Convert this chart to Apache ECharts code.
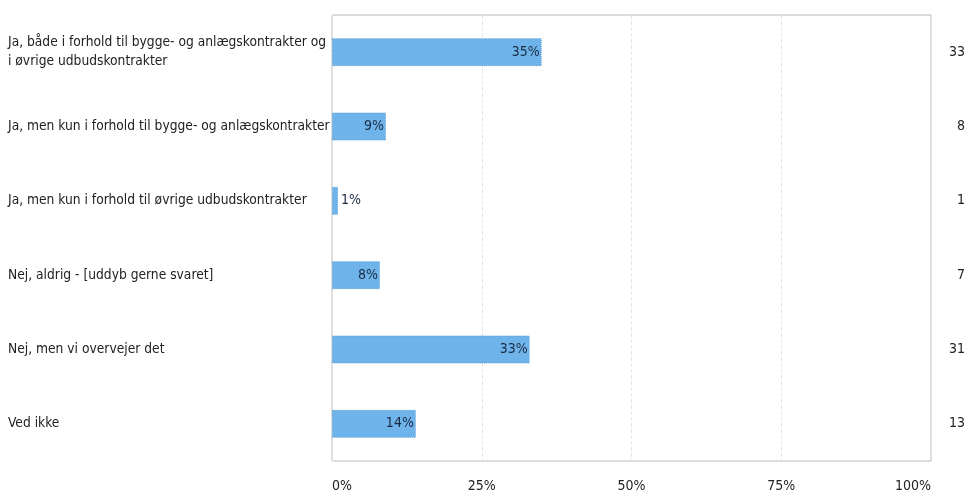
<!DOCTYPE html>
<html>
<head>
    <meta charset="utf-8">
    <title>ECharts</title>
    <script src="https://cdn.jsdelivr.net/npm/echarts@6/dist/echarts.min.js"></script>
</head>
<body style="margin:0;background:#fff">
<div id="main" style="width: 968px;height:493px;"></div>
<script type="text/javascript">
    var categories = [
        'Ja, både i forhold til bygge- og anlægskontrakter og\ni øvrige udbudskontrakter',
        'Ja, men kun i forhold til bygge- og anlægskontrakter',
        'Ja, men kun i forhold til øvrige udbudskontrakter',
        'Nej, aldrig - [uddyb gerne svaret]',
        'Nej, men vi overvejer det',
        'Ved ikke'
    ];
    var percents = [35, 9, 1, 8, 33, 14];
    var counts = [33, 8, 1, 7, 31, 13];
    var xTicks = ['0%', '25%', '50%', '75%', '100%'];

    var font = '"Liberation Sans Narrow", "DejaVu Sans Condensed", sans-serif';
    var myChart = echarts.init(document.getElementById('main'));

    var seriesData = percents.map(function (v, i) {
        var small = v < 5;
        return {
            value: v,
            label: {
                position: small ? 'right' : 'insideRight',
                distance: small ? 3 : 2
            }
        };
    });

    option = {
        animation: false,
        textStyle: { fontFamily: font },
        grid: {
            left: 332, right: 35, top: 15, bottom: 29,
            show: true, borderColor: '#b8b8b8', borderWidth: 1
        },
        xAxis: {
            type: 'value',
            min: 0, max: 100, interval: 25,
            axisLine: { show: false },
            axisTick: { show: false },
            splitLine: { show: true, lineStyle: { color: '#e6e6e6', type: 'dashed' } },
            axisLabel: {
                margin: 18,
                fontSize: 14, color: '#222', fontFamily: font,
                alignMinLabel: 'left', alignMaxLabel: 'right',
                formatter: function (v) { return xTicks[v / 25]; }
            }
        },
        yAxis: [{
            type: 'category',
            inverse: true,
            data: categories,
            axisLine: { show: false },
            axisTick: { show: false },
            axisLabel: {
                align: 'left', margin: 324,
                fontSize: 13.7, lineHeight: 19, color: '#222', fontFamily: font
            }
        }, {
            type: 'category',
            inverse: true,
            position: 'right',
            data: counts,
            axisLine: { show: false },
            axisTick: { show: false },
            axisLabel: {
                align: 'right', margin: 34,
                fontSize: 14, color: '#222', fontFamily: font
            }
        }],
        series: [{
            type: 'bar',
            data: seriesData,
            barWidth: 28,
            itemStyle: { color: '#6eb4ea', borderColor: '#5a9fd6', borderWidth: 1, borderType: 'dotted' },
            label: {
                show: true,
                fontSize: 14, color: '#1c2b45', fontFamily: font,
                formatter: '{c}%'
            }
        }]
    };

    myChart.setOption(option);
</script>
</body>
</html>
